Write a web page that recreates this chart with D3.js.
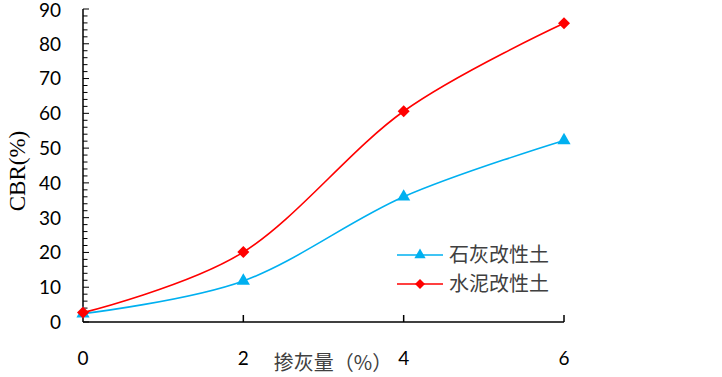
<!DOCTYPE html>
<html>
<head>
<meta charset="utf-8">
<script src="https://cdn.jsdelivr.net/npm/d3@7"></script>
<style>
  body { margin: 0; background: #fff; }
  svg { display: block; }
</style>
</head>
<body>
<div id="chart"></div>
<script>
// data
var dosage = [0, 2, 4, 6];
var limeCBR = [2.4, 11.8, 36, 52.2];
var cementCBR = [2.7, 20.1, 60.6, 85.9];
var xTicks = [0, 2, 4, 6];
var yTicks = [0, 10, 20, 30, 40, 50, 60, 70, 80, 90];
var seriesNames = ["石灰改性土", "水泥改性土"];
var seriesColors = ["#00B0F0", "#FF0000"];

var svg = d3.select("#chart").append("svg").attr("width", 722).attr("height", 377),
    margin = {top: 9, right: 158, bottom: 55, left: 83},
    width = +svg.attr("width") - margin.left - margin.right,
    height = +svg.attr("height") - margin.top - margin.bottom;

var x = d3.scaleLinear().domain([0, 6]).range([0, width]);
var y = d3.scaleLinear().domain([0, 90]).range([height, 0]);

var g = svg.append("g")
    .attr("transform", "translate(" + margin.left + "," + margin.top + ")");

// y axis: minor ticks every 2, major every 10, all pointing inwards
var yAxis = g.append("g").attr("class", "y axis");
yAxis.append("line")
    .attr("x1", 0).attr("x2", 0).attr("y1", y(90)).attr("y2", y(0))
    .attr("stroke", "#000").attr("stroke-width", 1.5);
yAxis.selectAll(".minor")
    .data(d3.range(0, 91, 2))
    .enter().append("line")
    .attr("x1", 0).attr("x2", function(d) { return d % 10 === 0 ? 6 : 4.5; })
    .attr("y1", function(d) { return y(d); }).attr("y2", function(d) { return y(d); })
    .attr("stroke", "#000").attr("stroke-width", 1);
yAxis.selectAll(".lab")
    .data(yTicks)
    .enter().append("text")
    .attr("x", -22).attr("y", function(d) { return y(d) + (d === 90 ? 1 : 0); })
    .attr("dy", "0.36em")
    .attr("text-anchor", "end")
    .style("font-family", "Lato, 'Open Sans', sans-serif")
    .style("font-size", "19px")
    .attr("fill", "#000")
    .text(function(d) { return d; });

// x axis
var xAxis = g.append("g").attr("class", "x axis")
    .attr("transform", "translate(0," + height + ")");
xAxis.append("line")
    .attr("x1", 0).attr("x2", width)
    .attr("stroke", "#000").attr("stroke-width", 1.5);
xAxis.selectAll(".tk")
    .data(xTicks.slice(1))
    .enter().append("line")
    .attr("x1", function(d) { return x(d); }).attr("x2", function(d) { return x(d); })
    .attr("y1", 0).attr("y2", -7)
    .attr("stroke", "#000").attr("stroke-width", 1.5);
xAxis.selectAll(".lab")
    .data(xTicks)
    .enter().append("text")
    .attr("x", function(d) { return x(d); }).attr("y", 36)
    .attr("dy", "0.36em")
    .attr("text-anchor", "middle")
    .style("font-family", "Lato, 'Open Sans', sans-serif")
    .style("font-size", "19px")
    .attr("fill", "#000")
    .text(function(d) { return d; });

// axis titles
svg.append("text")
    .attr("x", 333).attr("y", 363)
    .attr("dy", "0.36em")
    .attr("text-anchor", "middle")
    .style("font-family", "'Noto Sans CJK SC', sans-serif")
    .style("font-size", "20px")
    .attr("fill", "#404040")
    .text("掺灰量（%）");

svg.append("text")
    .attr("transform", "translate(17,171) rotate(-90)")
    .attr("dy", "0.36em")
    .attr("text-anchor", "middle")
    .style("font-family", "'Liberation Serif', 'Times New Roman', serif")
    .style("font-size", "23px")
    .attr("fill", "#000")
    .text("CBR(%)");

// series
var series = [limeCBR, cementCBR];
var line = d3.line()
    .x(function(d, i) { return x(dosage[i]); })
    .y(function(d) { return y(d); })
    .curve(d3.curveCardinal.tension(0));

series.forEach(function(vals, k) {
    g.append("path")
        .datum(vals)
        .attr("fill", "none")
        .attr("stroke", seriesColors[k])
        .attr("stroke-width", 1.6)
        .attr("d", line);
});

var triangle = d3.symbol().type(d3.symbolTriangle).size(75);
var diamond = d3.symbol().type(d3.symbolSquare).size(72);

g.selectAll(".lime")
    .data(limeCBR)
    .enter().append("path")
    .attr("d", triangle)
    .attr("transform", function(d, i) { return "translate(" + x(dosage[i]) + "," + y(d) + ")"; })
    .attr("fill", seriesColors[0]);

g.selectAll(".cement")
    .data(cementCBR)
    .enter().append("path")
    .attr("d", diamond)
    .attr("transform", function(d, i) { return "translate(" + x(dosage[i]) + "," + y(d) + ") rotate(45)"; })
    .attr("fill", seriesColors[1]);

// legend
var legend = svg.append("g").attr("transform", "translate(397,255)");
seriesNames.forEach(function(name, k) {
    var row = legend.append("g").attr("transform", "translate(0," + (k * 29) + ")");
    row.append("line")
        .attr("x1", 0).attr("x2", 46)
        .attr("stroke", seriesColors[k]).attr("stroke-width", 1.6);
    row.append("path")
        .attr("d", k === 0 ? d3.symbol().type(d3.symbolTriangle).size(55) : d3.symbol().type(d3.symbolSquare).size(50))
        .attr("transform", k === 0 ? "translate(23,0)" : "translate(23,0) rotate(45)")
        .attr("fill", seriesColors[k]);
    row.append("text")
        .attr("x", 52).attr("y", 0)
        .attr("dy", "0.36em")
        .style("font-family", "'Noto Sans CJK SC', sans-serif")
        .style("font-size", "20px")
        .attr("fill", "#404040")
        .text(name);
});
</script>
</body>
</html>
